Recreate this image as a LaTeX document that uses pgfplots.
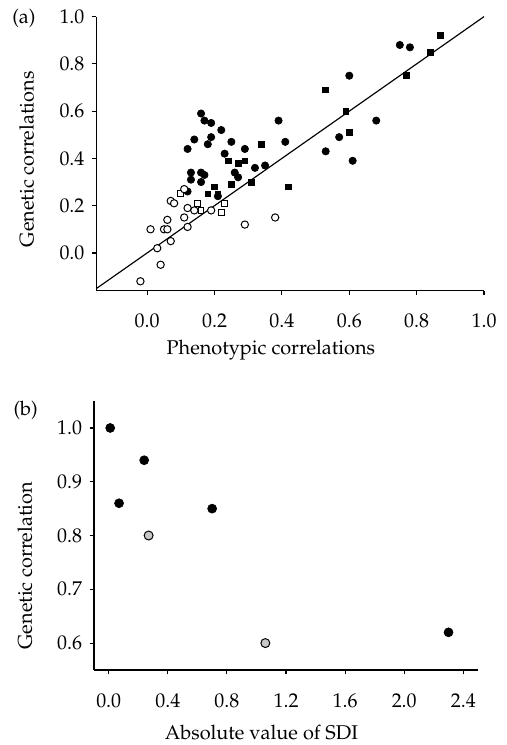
\documentclass[border=0pt]{standalone}
\usepackage[T1]{fontenc}
\usepackage{mathpazo}
\usepackage{pgfplots}
\pgfplotsset{compat=1.18}
\definecolor{lightgrey}{RGB}{200,200,200}

\pgfplotsset{
  panel/.style={
    scale only axis,
    axis x line*=bottom, axis y line*=left,
    axis line style={line width=0.7pt},
    tick align=outside, major tick length=2.6pt,
    tick style={line width=0.7pt, black},
    tick label style={font=\fontsize{12}{14}\selectfont},
    xticklabel style={yshift=-8pt},
    yticklabel style={xshift=-1pt},
    /pgf/number format/.cd, fixed, fixed zerofill, precision=1,
  },
}

\begin{document}
\begin{tikzpicture}
\path (0pt,0pt) rectangle (305.4pt,-447pt);

% (a) genetic vs phenotypic correlations
\begin{axis}[panel,
  at={(58pt,-175pt)}, anchor=south west,
  width=233.6pt, height=165pt,
  xmin=-0.151, xmax=1.0, ymin=-0.159, ymax=1.0,
  xtick={0,0.2,...,1.0}, ytick={0,0.2,...,1.0},
  clip=false]
\addplot[black, line width=0.7pt] coordinates {(-0.151,-0.151) (1.0,1.0)};
% filled circles
\addplot[only marks, mark=*, mark size=2.2pt, black] coordinates {
 (0.75,0.88) (0.78,0.87) (0.60,0.75) (0.68,0.56) (0.57,0.49) (0.53,0.43) (0.61,0.39)
 (0.25,0.47) (0.41,0.47) (0.23,0.42) (0.29,0.44) (0.32,0.36) (0.35,0.37) (0.26,0.34)
 (0.27,0.32) (0.16,0.59) (0.17,0.56) (0.19,0.55) (0.22,0.52) (0.14,0.48) (0.19,0.49)
 (0.18,0.46) (0.12,0.44) (0.39,0.56) (0.13,0.34) (0.16,0.34) (0.17,0.33) (0.13,0.31)
 (0.16,0.30) (0.12,0.26) (0.21,0.24)};
% filled squares
\addplot[only marks, mark=square*, mark size=1.75pt, black] coordinates {
 (0.87,0.92) (0.84,0.85) (0.77,0.75) (0.53,0.69) (0.59,0.60) (0.60,0.51)
 (0.34,0.46) (0.24,0.39) (0.27,0.38) (0.29,0.39) (0.25,0.29) (0.31,0.30) (0.42,0.28)
 (0.18,0.25) (0.20,0.28) (0.21,0.25)};
% open squares
\addplot[only marks, mark=square*, mark size=1.75pt, black, fill=white, line width=0.6pt] coordinates {
 (0.23,0.21) (0.22,0.17) (0.10,0.25) (0.15,0.21) (0.16,0.18)};
% open circles
\addplot[only marks, mark=*, mark size=2.2pt, black, fill=white, line width=0.6pt] coordinates {
 (0.29,0.12) (0.38,0.15) (0.11,0.27) (0.07,0.22) (0.08,0.21) (0.12,0.19) (0.14,0.18)
 (0.19,0.18) (0.11,0.15) (0.12,0.11) (0.06,0.14) (0.01,0.10) (0.05,0.10) (0.06,0.10)
 (0.03,0.02) (0.07,0.05) (0.04,-0.05) (-0.02,-0.12)};
\end{axis}

% (b) genetic correlation vs SDI
\begin{axis}[panel,
  at={(56.6pt,-403.6pt)}, anchor=south west,
  width=231.4pt, height=162pt,
  xmin=-0.1, xmax=2.5, ymin=0.55, ymax=1.05,
  xtick={0,0.4,...,2.4}, ytick={0.6,0.7,...,1.0},
  clip=false]
\addplot[only marks, mark=*, mark size=2.7pt, black] coordinates {
 (0.01,1.00) (0.24,0.94) (0.07,0.86) (0.70,0.85) (2.30,0.62)};
\addplot[only marks, mark=*, mark size=2.7pt, black, fill=lightgrey, line width=0.6pt] coordinates {
 (0.27,0.80) (1.06,0.60)};
\end{axis}

\begin{scope}[font=\fontsize{12}{14}\selectfont]
\node at (14.4pt,-10.8pt) {(a)};
\node at (15.5pt,-247.5pt) {(b)};
\node[rotate=90] at (16pt,-96pt) {Genetic correlations};
\node[rotate=90] at (15pt,-340.8pt) {Genetic correlation};
\node at (163.2pt,-211.2pt) {Phenotypic correlations};
\node at (157.5pt,-441pt) {Absolute value of SDI};
\end{scope}
\end{tikzpicture}
\end{document}
